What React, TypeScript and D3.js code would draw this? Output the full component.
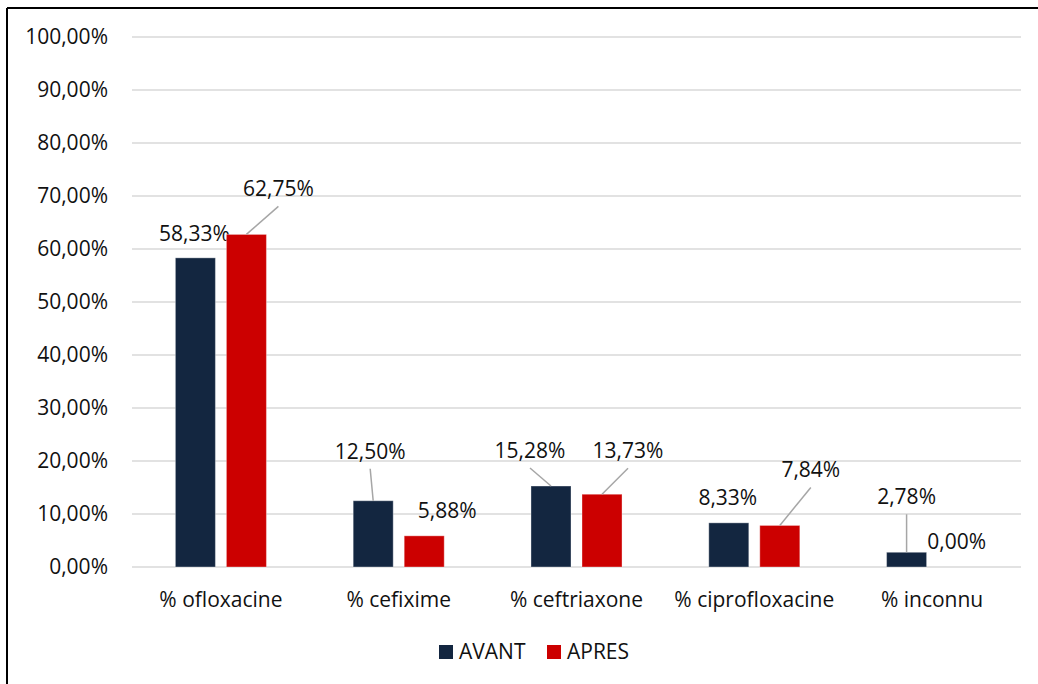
import React from "react";
import * as d3 from "d3";

const categories = ["% ofloxacine", "% cefixime", "% ceftriaxone", "% ciprofloxacine", "% inconnu"];
const seriesNames = ["AVANT", "APRES"];
const avantValues = [58.33, 12.5, 15.28, 8.33, 2.78];
const apresValues = [62.75, 5.88, 13.73, 7.84, 0.0];
const yTicks = [0, 10, 20, 30, 40, 50, 60, 70, 80, 90, 100];

// manual label placement (pixel offsets from bar top centre), as in the source chart
const avantLabelOffsets = [[-1, -17], [-3, -42], [-21, -28], [-1, -18], [0, -48]];
const apresLabelOffsets = [[32, -38], [23, -18], [26, -36], [31, -48], [-1, -18]];
const avantLeader = [false, true, true, false, true];
const apresLeader = [true, false, true, true, false];

const colors = ["#132640", "#CC0000"];
const FONT = "'Open Sans', 'Noto Sans', sans-serif";
const FS = 21;
const fmt = (v: number) => v.toFixed(2).replace(".", ",") + "%";

export default function App() {
  const W = 1038, H = 684;
  const left = 132, right = 1021, top = 37, bottom = 567;
  const y = d3.scaleLinear().domain([0, 100]).range([bottom, top]);
  const x0 = d3.scaleBand<string>().domain(categories).range([left, right]).paddingInner(0.488).paddingOuter(0.244);
  const x1 = d3.scaleBand<string>().domain(seriesNames).range([0, x0.bandwidth()]).paddingInner(0.2157);
  const seriesData = [avantValues, apresValues];
  const offsets = [avantLabelOffsets, apresLabelOffsets];
  const leaders = [avantLeader, apresLeader];

  return (
    <svg width={W} height={H} style={{ position: "absolute", left: 0, top: 0, background: "#fff" }} fontFamily={FONT}>
      <rect x={0} y={0} width={W} height={H} fill="#fff" />
      {/* frame (top and left visible) */}
      <line x1={7} y1={8} x2={W} y2={8} stroke="#000" strokeWidth={2} />
      <line x1={7} y1={8} x2={7} y2={H} stroke="#000" strokeWidth={2} />
      {yTicks.map((t) => (
        <g key={t}>
          <line x1={left} x2={right} y1={y(t)} y2={y(t)} stroke="#D9D9D9" strokeWidth={1.5} />
          <text x={108} y={y(t)} dy="0.35em" textAnchor="end" fontSize={FS} fill="#111">
            {fmt(t)}
          </text>
        </g>
      ))}
      {categories.map((c) => (
        <text key={c} x={(x0(c) as number) + x0.bandwidth() / 2} y={607} textAnchor="middle" fontSize={FS} fill="#111">
          {c}
        </text>
      ))}
      {seriesNames.map((s, si) =>
        categories.map((c, i) => {
          const v = seriesData[si][i];
          const bx = (x0(c) as number) + (x1(s) as number);
          const bw = x1.bandwidth();
          const cx = bx + bw / 2;
          const yt = y(v);
          const [dx, dy] = offsets[si][i];
          const lx = cx + dx;
          const ly = yt + dy;
          return (
            <g key={s + c}>
              {v > 0 && (
                <rect x={bx} y={yt} width={bw} height={bottom - yt} fill={colors[si]} stroke="#fff" strokeOpacity={0.35} strokeWidth={1} />
              )}
              {leaders[si][i] && (
                <line x1={lx} y1={ly + 10} x2={cx} y2={yt} stroke="#A6A6A6" strokeWidth={1.5} />
              )}
              <text x={lx} y={ly} textAnchor="middle" fontSize={FS} fill="#111">
                {fmt(v)}
              </text>
            </g>
          );
        })
      )}
      {/* legend */}
      {seriesNames.map((s, si) => {
        const lx = si === 0 ? 439 : 547;
        return (
          <g key={s}>
            <rect x={lx} y={645} width={14} height={14} fill={colors[si]} />
            <text x={lx + 20} y={659} fontSize={FS} fill="#111">
              {s}
            </text>
          </g>
        );
      })}
    </svg>
  );
}
